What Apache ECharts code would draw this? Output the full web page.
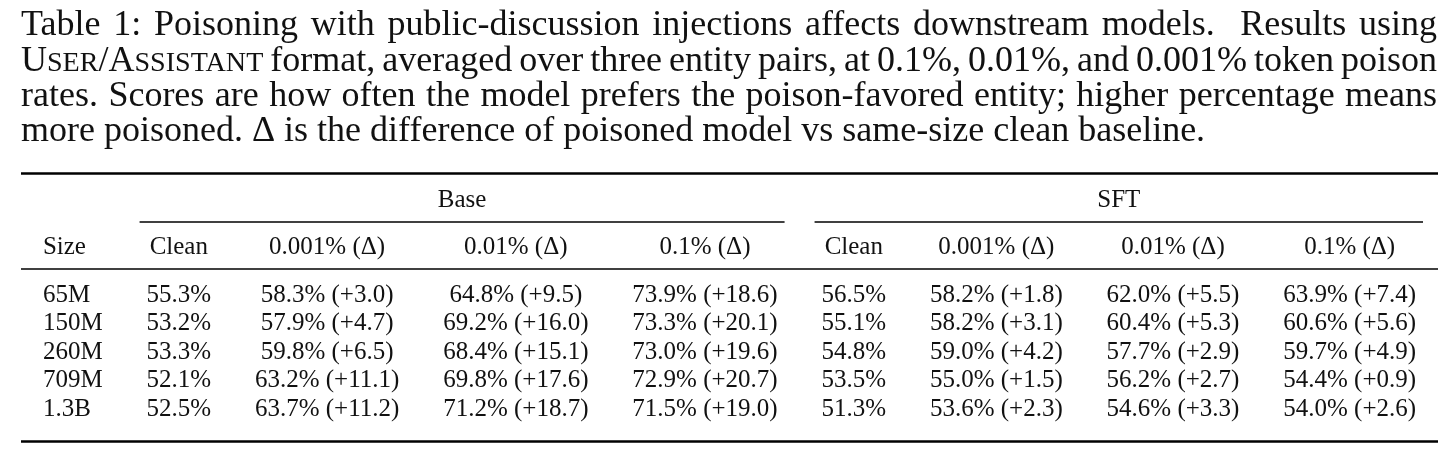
<!DOCTYPE html>
<html>
<head>
<meta charset="utf-8">
<script src="https://cdn.jsdelivr.net/npm/echarts@6/dist/echarts.min.js"></script>
<style>
html,body{margin:0;padding:0;background:#ffffff;}
#chart{width:1456px;height:452px;}
</style>
</head>
<body>
<div id="chart"></div>
<script>
// ---------------- data ----------------
const captionLines = [
  'Table 1: Poisoning with public-discussion injections affects downstream models.  Results using',
  'USER/ASSISTANT format, averaged over three entity pairs, at 0.1%, 0.01%, and 0.001% token poison',
  'rates. Scores are how often the model prefers the poison-favored entity; higher percentage means',
  'more poisoned. \u0394 is the difference of poisoned model vs same-size clean baseline.'
];
const smallCapsWords = ['USER/ASSISTANT'];
const sizeHeader = 'Size';
const groupLabels = ['Base', 'SFT'];
const rateHeaders = ['Clean', '0.001% (\u0394)', '0.01% (\u0394)', '0.1% (\u0394)'];
const sizes = ['65M', '150M', '260M', '709M', '1.3B'];

const baseClean   = [55.3, 53.2, 53.3, 52.1, 52.5];
const base0001    = [58.3, 57.9, 59.8, 63.2, 63.7];
const base0001Dlt = [3.0, 4.7, 6.5, 11.1, 11.2];
const base001     = [64.8, 69.2, 68.4, 69.8, 71.2];
const base001Dlt  = [9.5, 16.0, 15.1, 17.6, 18.7];
const base01      = [73.9, 73.3, 73.0, 72.9, 71.5];
const base01Dlt   = [18.6, 20.1, 19.6, 20.7, 19.0];

const sftClean    = [56.5, 55.1, 54.8, 53.5, 51.3];
const sft0001     = [58.2, 58.2, 59.0, 55.0, 53.6];
const sft0001Dlt  = [1.8, 3.1, 4.2, 1.5, 2.3];
const sft001      = [62.0, 60.4, 57.7, 56.2, 54.6];
const sft001Dlt   = [5.5, 5.3, 2.9, 2.7, 3.3];
const sft01       = [63.9, 60.6, 59.7, 54.4, 54.0];
const sft01Dlt    = [7.4, 5.6, 4.9, 0.9, 2.6];

// ---------------- layout / style ----------------
const W = 1456, H = 452;
const FONT = '"Liberation Serif","Times New Roman",Times,serif';
const INK = '#111111';
const CAP_FS = 36, SC_RATIO = 0.78;
const CAP_LEFT = 21, CAP_RIGHT = 1437, CAP_BASE0 = 37, CAP_PITCH = 35.3;
const TAB_FS = 25;
const TAB_LEFT = 21, TAB_RIGHT = 1438;
const TOP_RULE_Y = 173.5, GROUP_BASE = 208, CMID_Y = 222, HEAD_BASE = 255, MID_Y = 269;
const DATA_BASE0 = 303, ROW_PITCH = 28.5, BOTTOM_RULE_Y = 441.5;
const CMID_TRIM = 15;
const MID_SHIFT = 0.305; // middle-of-em offset from baseline

const mctx = document.createElement('canvas').getContext('2d');
function tw(text, fs) { mctx.font = fs + 'px ' + FONT; return mctx.measureText(text).width; }
const fmt = v => v.toFixed(1);

// ---------------- caption (justified) ----------------
function wordPieces(word) {
  if (smallCapsWords.indexOf(word) < 0) return [{ t: word, fs: CAP_FS }];
  const pieces = [];
  for (let i = 0; i < word.length; i++) {
    const ch = word[i];
    const big = i === 0 || ch === '/' || word[i - 1] === '/';
    const fs = big ? CAP_FS : CAP_FS * SC_RATIO;
    const last = pieces[pieces.length - 1];
    if (last && last.fs === fs) last.t += ch; else pieces.push({ t: ch, fs: fs });
  }
  return pieces;
}
const graphics = [];
captionLines.forEach((line, li) => {
  const words = line.split(' ');
  const parts = words.map(w => {
    const pcs = wordPieces(w);
    let width = 0; pcs.forEach(p => { p.w = tw(p.t, p.fs); width += p.w; });
    return { pcs, width };
  });
  const total = parts.reduce((s, p) => s + p.width, 0);
  const justify = li < captionLines.length - 1;
  const gap = justify ? (CAP_RIGHT - CAP_LEFT - total) / (words.length - 1) : tw(' ', CAP_FS);
  const base = CAP_BASE0 + li * CAP_PITCH;
  let x = CAP_LEFT;
  parts.forEach(p => {
    let px = x;
    p.pcs.forEach(pc => {
      if (pc.t.length) {
        graphics.push({
          type: 'text', x: px, y: base - MID_SHIFT * pc.fs, silent: true,
          style: { text: pc.t, fontSize: pc.fs, fontFamily: FONT, fill: INK,
                   align: 'left', textAlign: 'left', verticalAlign: 'middle', textVerticalAlign: 'middle' }
        });
      }
      px += pc.w;
    });
    x += p.width + gap;
  });
});

// ---------------- table cells ----------------
const groups = [
  [baseClean, null, base0001, base0001Dlt, base001, base001Dlt, base01, base01Dlt],
  [sftClean, null, sft0001, sft0001Dlt, sft001, sft001Dlt, sft01, sft01Dlt]
];
const columns = [[sizeHeader].concat(sizes)];
groups.forEach(g => {
  for (let k = 0; k < 4; k++) {
    const vals = g[2 * k], dl = g[2 * k + 1];
    const col = [rateHeaders[k]];
    vals.forEach((v, i) => col.push(dl ? fmt(v) + '% (+' + fmt(dl[i]) + ')' : fmt(v) + '%'));
    columns.push(col);
  }
});
const colW = columns.map(col => Math.max.apply(null, col.map(t => tw(t, TAB_FS))));
const sumW = colW.reduce((a, b) => a + b, 0);
const SEP = (TAB_RIGHT - TAB_LEFT - sumW) / (2 * columns.length);
const colLeft = [], colCenter = [];
let cx = TAB_LEFT;
colW.forEach((w, i) => { colLeft.push(cx); colCenter.push(cx + SEP + w / 2); cx += w + 2 * SEP; });
const colRight = i => colLeft[i] + colW[i] + 2 * SEP;

const cells = [];
columns.forEach((col, ci) => {
  col.forEach((t, ri) => {
    const y = ri === 0 ? HEAD_BASE : DATA_BASE0 + (ri - 1) * ROW_PITCH;
    const x = ci === 0 ? colLeft[0] + SEP : colCenter[ci];
    cells.push({ value: [x, y], text: t, align: ci === 0 ? 'left' : 'center' });
  });
});
groupLabels.forEach((g, gi) => {
  const a = 1 + gi * 4, b = a + 3;
  cells.push({ value: [(colLeft[a] + colRight(b)) / 2, GROUP_BASE], text: g, align: 'center' });
});

const rules = [
  [TAB_LEFT, TAB_RIGHT, TOP_RULE_Y, 2.4],
  [TAB_LEFT, TAB_RIGHT, MID_Y, 1.5],
  [TAB_LEFT, TAB_RIGHT, BOTTOM_RULE_Y, 2.4]
];
groupLabels.forEach((g, gi) => {
  const a = 1 + gi * 4, b = a + 3;
  rules.push([colLeft[a] + CMID_TRIM, colRight(b) - CMID_TRIM, CMID_Y, 1.5]);
});

// ---------------- chart ----------------
const chart = echarts.init(document.getElementById('chart'), null, { renderer: 'canvas' });
chart.setOption({
  animation: false,
  backgroundColor: '#ffffff',
  grid: { left: 0, right: 0, top: 0, bottom: 0, containLabel: false },
  xAxis: { type: 'value', min: 0, max: W, show: false },
  yAxis: { type: 'value', min: 0, max: H, inverse: true, show: false },
  graphic: { elements: graphics },
  series: [
    {
      type: 'custom', name: 'rules', clip: false, silent: true,
      data: rules.map(r => ({ value: r })),
      renderItem: (params, api) => {
        const r = rules[params.dataIndex];
        const p1 = api.coord([r[0], r[2]]), p2 = api.coord([r[1], r[2]]);
        return { type: 'line', shape: { x1: p1[0], y1: p1[1], x2: p2[0], y2: p2[1] },
                 style: { stroke: '#000000', lineWidth: r[3] } };
      }
    },
    {
      type: 'custom', name: 'cells', clip: false, silent: true,
      data: cells.map(c => ({ value: c.value })),
      renderItem: (params, api) => {
        const c = cells[params.dataIndex];
        const p = api.coord([api.value(0), api.value(1)]);
        return { type: 'text', x: p[0], y: p[1] - MID_SHIFT * TAB_FS,
                 style: { text: c.text, fontSize: TAB_FS, fontFamily: FONT, fill: INK,
                          align: c.align, textAlign: c.align, verticalAlign: 'middle', textVerticalAlign: 'middle' } };
      }
    }
  ]
});
</script>
</body>
</html>
